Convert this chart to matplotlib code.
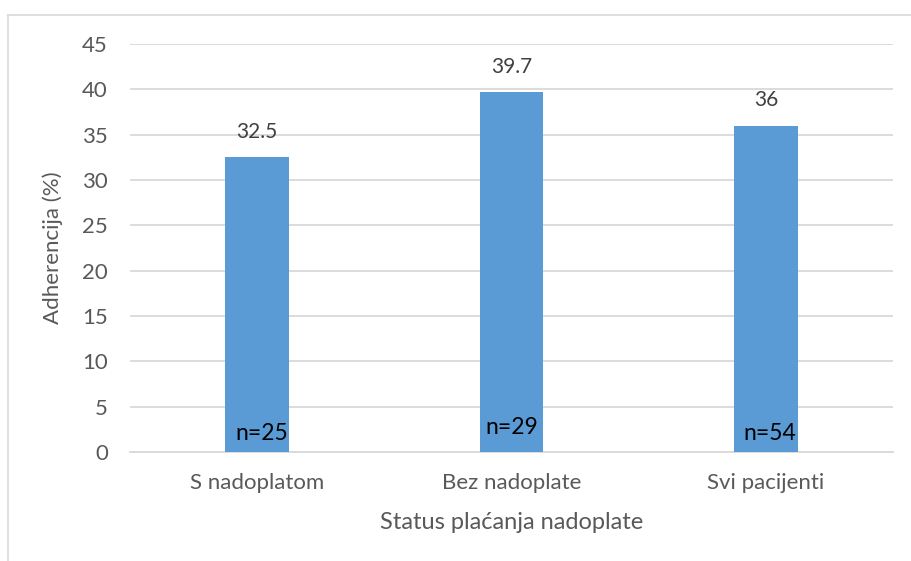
import matplotlib.pyplot as plt
from matplotlib.lines import Line2D

# Data
categories = ["S nadoplatom", "Bez nadoplate", "Svi pacijenti"]
adherence = [32.5, 39.7, 36]
value_labels = ["32.5", "39.7", "36"]
n_labels = ["n=25", "n=29", "n=54"]

W, H = 911, 561
fig = plt.figure(figsize=(W / 100, H / 100), dpi=100)
plt.rcParams['font.family'] = ['Lato', 'DejaVu Sans']

# plot area in pixels: x 130..893, y 44..452
ax = fig.add_axes([130 / W, 1 - 452 / H, 763 / W, 408 / H])

x = list(range(len(categories)))
ax.bar(x, adherence, width=0.25, color="#5B9BD5", zorder=3)

ax.set_xlim(-0.5, 2.5)
ax.set_ylim(0, 45)
ax.set_yticks(range(0, 46, 5))
ax.set_xticks(x)
ax.set_xticklabels(categories)
ax.grid(axis="y", color="#d9d9d9", linewidth=1.3, zorder=0)
ax.tick_params(axis="both", length=0, labelsize=16, colors="#595959")
ax.tick_params(axis="x", pad=15)
ax.tick_params(axis="y", pad=16)
for side in ["top", "right", "left"]:
    ax.spines[side].set_visible(False)
ax.spines["bottom"].set_color("#d9d9d9")
ax.spines["bottom"].set_linewidth(1.3)

ax.set_xlabel("Status plaćanja nadoplate", fontsize=17, color="#595959", labelpad=14)
ax.set_ylabel("Adherencija (%)", fontsize=16, color="#595959", labelpad=14)

for i, v in enumerate(adherence):
    ax.annotate(value_labels[i], (i, v), xytext=(0, 11), textcoords="offset points",
                ha="center", va="bottom", fontsize=15, color="#404040")

n_offsets = [(3, 6), (0, 10), (3, 6)]
for i, lbl in enumerate(n_labels):
    ax.annotate(lbl, (i, 0), xytext=n_offsets[i], textcoords="offset points",
                ha="center", va="bottom", fontsize=16.5, color="black", zorder=4)

# chart frame (left and top edges visible)
fig.add_artist(Line2D([8 / W, 8 / W], [0, 1 - 15 / H], transform=fig.transFigure,
                      color="#d9d9d9", linewidth=1.2))
fig.add_artist(Line2D([8 / W, 1], [1 - 15 / H, 1 - 15 / H], transform=fig.transFigure,
                      color="#d9d9d9", linewidth=1.2))

fig.savefig("out.png", dpi=100, facecolor="white")
